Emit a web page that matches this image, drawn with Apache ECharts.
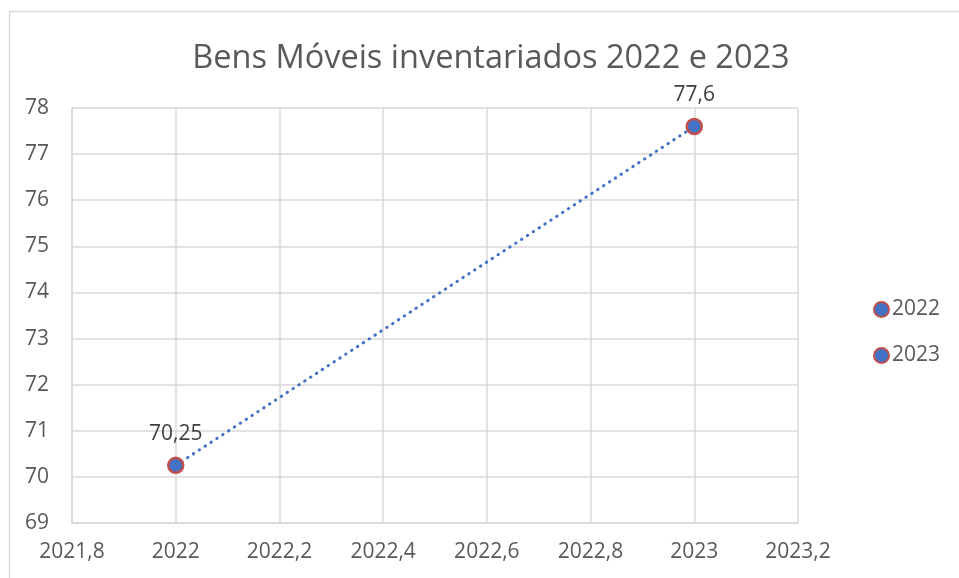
<!DOCTYPE html>
<html>
<head>
<meta charset="utf-8">
<script src="https://cdn.jsdelivr.net/npm/echarts@6/dist/echarts.min.js"></script>
<style>
html,body{margin:0;padding:0;background:#fff;}
#chart{width:959px;height:578px;}
</style>
</head>
<body>
<div id="chart"></div>
<script>
const titleText = 'Bens Móveis inventariados 2022 e 2023';
const seriesNames = ['2022', '2023'];
const years = [2022, 2023];
const values = [70.25, 77.6];
const xMin = 2021.8, xMax = 2023.2, xStep = 0.2;
const yMin = 69, yMax = 78, yStep = 1;

const FONT = '"Open Sans", "Liberation Sans", sans-serif';
const fmt = v => (Math.round(v * 100) / 100).toString().replace('.', ',');

const chart = echarts.init(document.getElementById('chart'), null, {renderer: 'canvas'});

const scatterSeries = seriesNames.map((name, i) => ({
  name: name,
  type: 'scatter',
  z: 5,
  symbol: 'circle',
  symbolSize: 15,
  itemStyle: {color: '#4472C4', borderColor: '#C0504D', borderWidth: 2.5, opacity: 1},
  data: [[years[i], values[i]]],
  label: {
    show: true,
    position: 'top',
    distance: 12,
    fontFamily: FONT,
    fontSize: 21,
    color: '#404040',
    formatter: p => fmt(p.value[1])
  }
}));

const option = {
  backgroundColor: '#ffffff',
  animation: false,
  graphic: [{
    type: 'rect',
    left: 7, top: 9,
    shape: {width: 1200, height: 1000},
    style: {fill: 'none', stroke: '#D9D9D9', lineWidth: 1.5},
    silent: true
  }],
  title: {
    text: titleText,
    left: 486,
    textAlign: 'center',
    top: 37,
    textStyle: {fontFamily: FONT, fontSize: 32.5, fontWeight: 'normal', color: '#595959'}
  },
  legend: {
    orient: 'vertical',
    left: 873,
    top: 299,
    padding: 0,
    itemGap: 25,
    itemWidth: 15,
    itemHeight: 15,
    icon: 'circle',
    data: seriesNames,
    textStyle: {fontFamily: FONT, fontSize: 21, color: '#595959', padding: [0, 0, 0, -2]}
  },
  grid: {left: 72, right: 161, top: 108, bottom: 55, containLabel: false},
  xAxis: {
    type: 'value',
    min: xMin, max: xMax, interval: xStep,
    axisLine: {show: true, lineStyle: {color: '#D9D9D9', width: 1.5}},
    axisTick: {show: false},
    splitLine: {show: true, lineStyle: {color: '#D9D9D9', width: 1.5}},
    axisLabel: {fontFamily: FONT, fontSize: 21, color: '#595959', margin: 19, formatter: v => fmt(v)}
  },
  yAxis: {
    type: 'value',
    min: yMin, max: yMax, interval: yStep,
    axisLine: {show: true, lineStyle: {color: '#D9D9D9', width: 1.5}},
    axisTick: {show: false},
    splitLine: {show: true, lineStyle: {color: '#D9D9D9', width: 1.5}},
    axisLabel: {fontFamily: FONT, fontSize: 21, color: '#595959', margin: 23, formatter: v => fmt(v)}
  },
  series: [{
    name: 'trend',
    type: 'line',
    z: 2,
    symbol: 'none',
    silent: true,
    data: years.map((y, i) => [y, values[i]]),
    lineStyle: {color: '#4472C4', width: 3, type: [0.5, 6.5], cap: 'round'}
  }].concat(scatterSeries)
};
chart.setOption(option);
</script>
</body>
</html>
